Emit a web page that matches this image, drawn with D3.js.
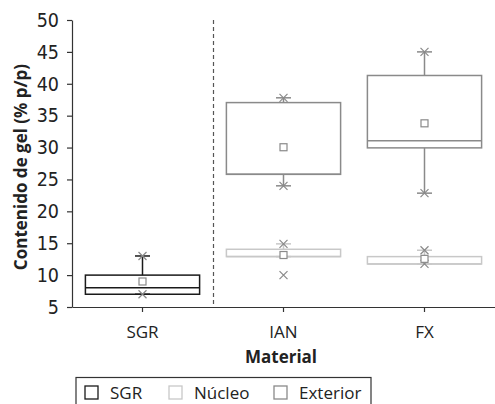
<!DOCTYPE html>
<html>
<head>
<meta charset="utf-8">
<script src="https://cdn.jsdelivr.net/npm/d3@7"></script>
<style>
  body { margin: 0; background: #fff; }
  text { font-family: "Open Sans", "Noto Sans", sans-serif; fill: #222; }
  .yax text { font-family: "Liberation Sans Narrow", "DejaVu Sans Condensed", "Open Sans", sans-serif; }
</style>
</head>
<body>
<div id="Container"></div>
<script>
// datos
var materiales = ["SGR", "IAN", "FX"];
var series = ["SGR", "Núcleo", "Exterior"];
var yTicks = [5, 10, 15, 20, 25, 30, 35, 40, 45, 50];

// una caja por material y serie
var cajaMaterial = ["SGR", "IAN", "IAN", "FX", "FX"];
var cajaSerie = ["SGR", "Núcleo", "Exterior", "Núcleo", "Exterior"];
var q1 = [7, 12.9, 25.8, 11.75, 29.95];
var mediana = [8, 12.9, 25.8, 11.75, 31.05];
var q3 = [10, 14.05, 37.05, 12.9, 41.3];
var media = [9, 13.15, 30.05, 12.55, 33.8];
var bigoteMin = [7, 12.9, 24, 11.75, 22.85];
var bigoteMax = [13, 14.9, 37.8, 13.9, 45];
var puntos = [[13, 7], [14.9, 10], [37.8, 24], [13.9, 11.75], [45, 22.85]];

var margin = { top: 20, right: 0, bottom: 97, left: 72 }
    W = 495
    H = 404
    w = W - margin.left - margin.right
    h = H - margin.top - margin.bottom
    canvas = d3.select("#Container").append('svg')
        .attr('width', W)
        .attr('height', H)
    svg = canvas.append('g')
        .attr('transform', 'translate(' + margin.left + ',' + margin.top + ')')

var color = d3.scaleOrdinal()
    .domain(series)
    .range(["#1a1a1a", "#c8c8c8", "#8a8a8a"]);

var x = d3.scaleBand()
    .domain(materiales)
    .range([0, w]);

var y = d3.scaleLinear()
    .domain([5, 50])
    .range([h, 0]);

var cajas = cajaMaterial.map(function (m, i) {
    return { material: m, serie: cajaSerie[i], q1: q1[i], med: mediana[i], q3: q3[i],
             media: media[i], lo: bigoteMin[i], hi: bigoteMax[i], puntos: puntos[i] };
});

var anchoCaja = x.bandwidth() * 0.81;

// linea discontinua entre SGR e IAN
svg.append("line")
    .attr('x1', x("IAN") + 0.5)
    .attr('x2', x("IAN") + 0.5)
    .attr('y1', 0)
    .attr('y2', h)
    .attr('stroke', '#555')
    .attr('stroke-width', 1.2)
    .attr('stroke-dasharray', '4,3');

// ejes
var yax = svg.append("g")
    .attr("class", "yax")
    .call(d3.axisLeft(y).tickValues(yTicks).tickSize(5).tickSizeOuter(0).tickPadding(8));

var xax = svg.append("g")
    .attr("class", "xax")
    .attr("transform", "translate(0," + h + ")")
    .call(d3.axisBottom(x).tickSize(5).tickSizeOuter(0).tickPadding(14));

canvas.selectAll(".yax text")
    .attr("font-size", 19.5)
    .attr("font-family", null);
canvas.selectAll(".xax text")
    .attr("font-size", 17)
    .attr("font-family", null);
canvas.selectAll(".yax path, .xax path, .yax line, .xax line")
    .attr("stroke", "#333")
    .attr("stroke-width", 1.2);

// cajas
var g = svg.selectAll("g.caja").data(cajas)
    .enter()
    .append("g")
        .attr("class", "caja")
        .attr("transform", function (d) { return "translate(" + (x(d.material) + x.bandwidth() / 2) + ",0)"; });

g.append("line")
    .attr('x1', 0).attr('x2', 0)
    .attr('y1', function (d) { return y(d.hi); })
    .attr('y2', function (d) { return y(d.q3); })
    .attr('stroke', function (d) { return color(d.serie); })
    .attr('stroke-width', 1.5);

g.append("line")
    .attr('x1', 0).attr('x2', 0)
    .attr('y1', function (d) { return y(d.q1); })
    .attr('y2', function (d) { return y(d.lo); })
    .attr('stroke', function (d) { return color(d.serie); })
    .attr('stroke-width', 1.5);

g.selectAll("line.tope")
    .data(function (d) { return [{ v: d.hi, s: d.serie }, { v: d.lo, s: d.serie }]; })
    .enter()
    .append("line")
        .attr("class", "tope")
        .attr('x1', -7.5).attr('x2', 7.5)
        .attr('y1', function (d) { return y(d.v); })
        .attr('y2', function (d) { return y(d.v); })
        .attr('stroke', function (d) { return color(d.s); })
        .attr('stroke-width', 1.5);

g.append("rect")
    .attr('x', -anchoCaja / 2)
    .attr('width', anchoCaja)
    .attr('y', function (d) { return y(d.q3); })
    .attr('height', function (d) { return y(d.q1) - y(d.q3); })
    .attr('fill', 'none')
    .attr('stroke', function (d) { return color(d.serie); })
    .attr('stroke-width', 1.5);

g.append("line")
    .attr('x1', -anchoCaja / 2).attr('x2', anchoCaja / 2)
    .attr('y1', function (d) { return y(d.med); })
    .attr('y2', function (d) { return y(d.med); })
    .attr('stroke', function (d) { return color(d.serie); })
    .attr('stroke-width', 1.5);

// marcas X
g.selectAll("path.equis")
    .data(function (d) { return d.puntos; })
    .enter()
    .append("path")
        .attr("class", "equis")
        .attr("d", function (v) {
            var c = y(v), s = 4;
            return "M" + (-s) + "," + (c - s) + "L" + s + "," + (c + s) +
                   "M" + s + "," + (c - s) + "L" + (-s) + "," + (c + s);
        })
        .attr('stroke', '#8a8a8a')
        .attr('stroke-width', 1.2)
        .attr('fill', 'none');

// media
g.append("rect")
    .attr('x', -3.5)
    .attr('y', function (d) { return y(d.media) - 3.5; })
    .attr('width', 7)
    .attr('height', 7)
    .attr('fill', '#fff')
    .attr('stroke', '#8a8a8a')
    .attr('stroke-width', 1.2);

// titulos de ejes
canvas.append("text")
    .text("Contenido de gel (% p/p)")
    .attr("transform", "translate(27,167) rotate(-90)")
    .attr("text-anchor", "middle")
    .attr("font-size", 17)
    .style("font-weight", "bold");

canvas.append("text")
    .text("Material")
    .attr("x", 281)
    .attr("y", 363)
    .attr("text-anchor", "middle")
    .attr("font-size", 17)
    .style("font-weight", "bold");

// leyenda
var leyX = [0, 84, 189];
var ley = canvas.append("g")
    .attr("transform", "translate(76,377.5)");

ley.append("rect")
    .attr("x", 0)
    .attr("y", 0)
    .attr("width", 295)
    .attr("height", 40)
    .attr("fill", "#fff")
    .attr("stroke", "#333")
    .attr("stroke-width", 1.2);

ley.selectAll("rect.cuadro").data(series)
    .enter()
    .append("rect")
        .attr("class", "cuadro")
        .attr("x", function (d, i) { return leyX[i] + 9; })
        .attr("y", 8.5)
        .attr("width", 13)
        .attr("height", 13)
        .attr("fill", "#fff")
        .attr("stroke", function (d) { return color(d); })
        .attr("stroke-width", 1.3);

ley.selectAll("text").data(series)
    .enter()
    .append("text")
        .attr("x", function (d, i) { return leyX[i] + 34; })
        .attr("y", 21)
        .attr("font-size", 17)
        .text(function (d) { return d; });
</script>
</body>
</html>
